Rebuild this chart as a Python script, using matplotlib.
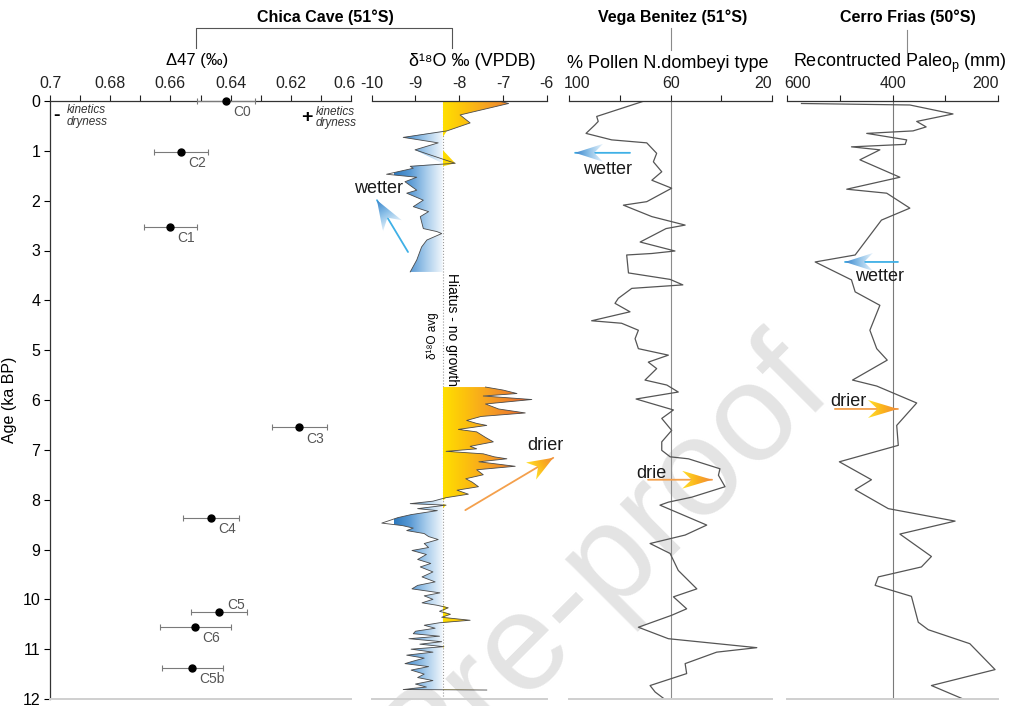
import numpy as np
import matplotlib
matplotlib.use("Agg")
import matplotlib.pyplot as plt
from matplotlib.colors import LinearSegmentedColormap
from matplotlib.patches import Polygon
from matplotlib.lines import Line2D
from matplotlib.transforms import Affine2D, ScaledTranslation

plt.rcParams['axes.unicode_minus'] = False
plt.rcParams['font.family'] = ['Liberation Sans', 'DejaVu Sans']
NARROW = ['Liberation Sans Narrow', 'Liberation Sans', 'DejaVu Sans']

# clumped isotopes, Chica Cave
d47_labels = ['C0', 'C2', 'C1', 'C3', 'C4', 'C5', 'C6', 'C5b']
d47_age = [0.0, 1.02, 2.52, 6.55, 8.36, 10.25, 10.56, 11.38]
d47_val = [0.6415, 0.6565, 0.6601, 0.6172, 0.6464, 0.6438, 0.6518, 0.6527]
d47_err = [0.0095, 0.0091, 0.0088, 0.0091, 0.0093, 0.0093, 0.0118, 0.0101]

# d18O, Chica Cave (two growth phases, hiatus between)
d18o_avg = -8.38
seg1_age = [0.00, 0.05, 0.28, 0.44, 0.60, 0.73, 0.84, 0.98, 1.25, 1.31, 1.35, 1.47,
            1.53, 1.62, 1.79, 1.85, 1.99, 2.12, 2.22, 2.32, 2.56, 2.62, 2.66, 2.79,
            2.93, 3.19, 3.43]
seg1_d18o = [-7.10, -6.87, -7.98, -7.75, -8.28, -9.28, -8.48, -9.01, -8.09, -9.12, -9.05, -9.66,
             -8.97, -9.24, -8.97, -9.20, -8.82, -9.05, -8.70, -8.89, -8.82, -8.51, -8.40, -8.74,
             -8.86, -8.97, -9.12]
seg2_age = [5.74, 5.80, 5.87, 5.92, 5.99, 6.08, 6.18, 6.26, 6.33, 6.41, 6.47, 6.51,
            6.59, 6.64, 6.75, 6.84, 6.93, 6.98, 7.03, 7.08, 7.14, 7.18, 7.24, 7.33,
            7.40, 7.50, 7.58, 7.65, 7.74, 7.81, 7.89, 7.96,
            8.03, 8.08, 8.11, 8.18, 8.22, 8.30, 8.36, 8.42, 8.47, 8.52, 8.57, 8.62,
            8.68, 8.74, 8.80, 8.88, 8.96, 9.02, 9.10, 9.20, 9.28, 9.35, 9.45, 9.55,
            9.65, 9.72, 9.79, 9.87, 9.93, 10.00,
            10.07, 10.12, 10.17, 10.24, 10.30, 10.36, 10.42, 10.47, 10.52, 10.58, 10.64, 10.69,
            10.74, 10.79, 10.85, 10.90, 10.95, 11.00, 11.06, 11.12, 11.18, 11.24, 11.29, 11.35,
            11.42, 11.50, 11.57, 11.63, 11.70, 11.76, 11.81, 11.82]
seg2_d18o = [-7.40, -7.00, -6.68, -7.45, -6.34, -7.40, -7.10, -6.49, -7.50, -7.83, -7.60, -7.37,
             -8.02, -7.60, -7.40, -7.22, -7.75, -7.60, -8.30, -7.45, -7.20, -6.91, -7.55, -6.72,
             -7.60, -7.45, -7.85, -7.70, -7.56, -8.05, -7.79, -8.30,
             -8.60, -9.12, -8.30, -8.95, -8.50, -9.10, -9.40, -9.60, -9.77, -9.30, -9.05, -9.20,
             -8.80, -8.70, -8.48, -8.80, -8.70, -9.08, -8.75, -8.95, -8.65, -8.89, -8.60, -8.85,
             -8.55, -8.95, -9.08, -8.44, -8.80, -8.60,
             -8.85, -8.50, -8.25, -8.45, -8.20, -8.40, -7.75, -8.45, -8.80, -8.55, -9.00, -9.05,
             -8.45, -9.15, -8.40, -8.90, -8.35, -9.10, -8.60, -9.20, -8.80, -9.05, -9.24, -8.70,
             -9.10, -8.80, -8.95, -8.60, -9.00, -8.75, -9.28, -7.37]

# Vega Benitez pollen
pollen_age = [0.00, 0.31, 0.41, 0.48, 0.65, 0.78, 0.84, 1.05, 1.22, 1.42, 1.59, 1.75,
              2.02, 2.09, 2.32, 2.49, 2.56, 2.83, 3.01, 3.06, 3.09, 3.45, 3.58, 3.69,
              3.76, 3.96, 4.06, 4.23, 4.41, 4.46, 4.60, 4.77, 4.97, 5.10, 5.24, 5.37,
              5.60, 5.70, 5.84, 5.98, 6.20, 6.37, 6.61, 6.84, 7.01, 7.14, 7.18, 7.38,
              7.51, 7.74, 7.95, 8.05, 8.11, 8.51, 8.71, 8.88, 9.08, 9.42, 9.79, 9.95,
              10.19, 10.32, 10.56, 10.79, 10.97, 11.06, 11.29, 11.49, 11.73, 11.86, 12.06]
pollen_pct = [70.4, 89.1, 88.5, 89.8, 93.3, 83.2, 69.4, 65.5, 66.8, 63.5, 67.4, 59.6,
              69.4, 78.6, 67.4, 54.3, 61.8, 72.0, 58.3, 67.4, 77.3, 76.6, 60.2, 55.2,
              75.3, 80.6, 81.9, 76.0, 91.1, 79.3, 72.7, 74.0, 72.7, 60.9, 68.8, 65.5,
              70.1, 61.5, 57.0, 73.6, 58.9, 63.5, 59.6, 63.5, 63.5, 60.2, 53.0, 40.6,
              41.2, 38.6, 51.7, 60.9, 64.2, 45.8, 54.3, 68.1, 60.2, 57.0, 49.7, 58.9,
              53.7, 59.6, 72.7, 60.9, 26.1, 41.9, 54.3, 53.7, 68.1, 66.1, 60.9]

# Cerro Frias reconstructed precipitation
paleo_age = [0.05, 0.08, 0.26, 0.41, 0.52, 0.60, 0.65, 0.78, 0.87, 0.92, 0.98, 1.18,
             1.53, 1.77, 1.85, 2.15, 2.39, 3.09, 3.23, 3.59, 3.83, 4.10, 4.60, 4.97,
             5.20, 5.60, 5.72, 6.06, 6.51, 6.91, 7.24, 7.60, 7.80, 8.18, 8.43, 8.69,
             9.14, 9.35, 9.55, 9.72, 9.94, 10.46, 10.61, 10.89, 11.41, 11.73, 12.03]
paleo_mm = [573, 367, 285, 354, 336, 361, 449, 373, 376, 478, 424, 462,
            386, 487, 411, 367, 421, 471, 547, 478, 471, 424, 443, 430,
            410, 476, 430, 354, 392, 389, 501, 440, 471, 408, 281, 386,
            326, 345, 427, 433, 364, 351, 332, 253, 205, 326, 259]

W, H = 1012, 706
fig = plt.figure(figsize=(W / 100, H / 100), dpi=100)

# watermark behind everything
fig.text(0.595, 0.200, 'Pre-proof', rotation=45, rotation_mode='anchor',
         ha='center', va='center', fontsize=100, color='#e4e4e4', zorder=-10)


def box(x0, x1, y0=101, y1=699):
    return [x0 / W, 1 - y1 / H, (x1 - x0) / W, (y1 - y0) / H]


def shift_label(lab, dx_px):
    lab.set_transform(lab.get_transform() + ScaledTranslation(dx_px / 100, 0, fig.dpi_scale_trans))


ax1 = fig.add_axes(box(50, 351))
ax2 = fig.add_axes(box(371.7, 546.7))
ax3 = fig.add_axes(box(569, 772.3))
ax4 = fig.add_axes(box(787.3, 997.7))

for ax in (ax1, ax2, ax3, ax4):
    ax.set_ylim(12, 0)
    ax.patch.set_visible(False)
    ax.xaxis.tick_top()
    ax.tick_params(axis='x', which='both', top=True, bottom=False, labeltop=True,
                   labelbottom=False, direction='out', width=0.8, length=4, pad=3,
                   colors='#222222', labelsize=11.5)
    ax.spines['top'].set_linewidth(0.9)
    ax.spines['top'].set_color('#333333')
    ax.spines['right'].set_visible(False)
    ax.spines['bottom'].set_color('#cfcfcf')
    ax.spines['bottom'].set_linewidth(1.4)
    if ax is not ax1:
        ax.spines['left'].set_visible(False)
        ax.set_yticks([])

# --- Delta47 panel ---
ax1.set_xlim(0.7, 0.6)
ax1.set_xticks([0.70, 0.68, 0.66, 0.64, 0.62, 0.60])
ax1.set_xticklabels(['0.7', '0.68', '0.66', '0.64', '0.62', '0.6'])
ax1.set_xticks([0.69, 0.67, 0.65, 0.63, 0.61], minor=True)
for lab in ax1.get_xticklabels():
    lab.set_family(NARROW)
    lab.set_fontsize(11.5)
shift_label(ax1.get_xticklabels()[-1], -6)
ax1.set_yticks(range(13))
ax1.tick_params(axis='y', direction='out', length=4, width=0.8, pad=3, labelsize=11.5)
for lab in ax1.get_yticklabels():
    lab.set_family(NARROW)
ax1.spines['left'].set_linewidth(0.9)
ax1.spines['left'].set_color('#333333')
ax1.set_ylabel('Age (ka BP)', fontsize=11.5)
ax1.yaxis.set_label_coords(-33 / 301, 0.5)

ax1.errorbar(d47_val, d47_age, xerr=d47_err, fmt='o', color='black', ms=5,
             ecolor='#7a7a7a', elinewidth=0.8, capsize=2.5, capthick=0.8,
             clip_on=False, zorder=4)
for lab, v, a in zip(d47_labels, d47_val, d47_age):
    if lab == 'C5':
        ax1.annotate(lab, (v, a), xytext=(6, 0), textcoords='offset points',
                     ha='left', va='bottom', fontsize=10, color='#555555', family=NARROW)
    else:
        ax1.annotate(lab, (v, a), xytext=(5, -3), textcoords='offset points',
                     ha='left', va='top', fontsize=10, color='#555555', family=NARROW)

ax1.text(0.6977, 0.30, '-', fontsize=14, fontweight='bold', ha='center', va='center')
ax1.text(0.6945, 0.30, 'kinetics\ndryness', fontsize=8.5, style='italic', ha='left',
         va='center', linespacing=0.9, color='#333333')
ax1.text(0.6146, 0.34, '+', fontsize=14, fontweight='bold', ha='center', va='center')
ax1.text(0.6118, 0.34, 'kinetics\ndryness', fontsize=8.5, style='italic', ha='left',
         va='center', linespacing=0.9, color='#333333', clip_on=False)

# --- d18O panel ---
ax2.set_xlim(-10, -6)
ax2.set_xticks([-10, -9, -8, -7, -6])

dry_cmap = LinearSegmentedColormap.from_list('dry', ['#ffdf00', '#fcc00e', '#f6a024', '#ee7f2c', '#e4542a'])
wet_cmap = LinearSegmentedColormap.from_list('wet', ['#f2f7fc', '#a9cdec', '#5b9bd5', '#2c78bd'])


def gradient_fill(ax, age, vals, base, limit, cmap):
    age = np.asarray(age)
    vals = np.asarray(vals)
    edge = np.maximum(vals, base) if limit > base else np.minimum(vals, base)
    verts = np.column_stack([np.r_[base, edge, base], np.r_[age[0], age, age[-1]]])
    poly = Polygon(verts, closed=True, facecolor='none', edgecolor='none')
    ax.add_patch(poly)
    im = ax.imshow(np.linspace(0, 1, 256)[None, :], cmap=cmap, aspect='auto',
                   extent=(base, limit, age[-1], age[0]), interpolation='bilinear', zorder=1)
    im.set_clip_path(poly)


for age, vals in ((seg1_age, seg1_d18o), (seg2_age, seg2_d18o)):
    gradient_fill(ax2, age, vals, d18o_avg, -6.3, dry_cmap)
    gradient_fill(ax2, age, vals, d18o_avg, -9.5, wet_cmap)
    ax2.plot(vals, age, color='#4a4a4a', lw=0.6, zorder=2)

ax2.axvline(d18o_avg, color='#9a9a9a', lw=0.8, ls=':', zorder=0.5)
ax2.set_xlim(-10, -6)
ax2.set_ylim(12, 0)
ax2.text(-8.60, 4.71, 'δ¹⁸O avg', rotation=90, fontsize=8.5, ha='center', va='center')
ax2.text(-8.16, 4.58, 'Hiatus - no growth', rotation=270, fontsize=10, ha='center', va='center')

# --- pollen panel ---
ax3.set_xlim(100, 20)
ax3.set_xticks([100, 60, 20])
ax3.set_xticks([80, 40], minor=True)
shift_label(ax3.get_xticklabels()[0], 8)
shift_label(ax3.get_xticklabels()[-1], -9)
ax3.axvline(60, color='#8c8c8c', lw=0.8, zorder=0.5)
ax3.plot(pollen_pct, pollen_age, color='#555555', lw=0.9)

# --- Cerro Frias panel ---
ax4.set_xlim(600, 200)
ax4.set_xticks([600, 400, 200])
ax4.set_xticks([500, 300], minor=True)
shift_label(ax4.get_xticklabels()[0], 10)
shift_label(ax4.get_xticklabels()[-1], -12)
ax4.axvline(400, color='#7a7a7a', lw=0.8, zorder=0.5)
ax4.plot(paleo_mm, paleo_age, color='#555555', lw=0.9)


def gradient_arrow(ax, tail, tip, colors, line_color, head_len=24, head_w=20, lw=1.3):
    ax.annotate('', xy=tip, xytext=tail, annotation_clip=False,
                arrowprops=dict(arrowstyle='-', color=line_color, lw=lw,
                                shrinkA=0, shrinkB=0))
    p0 = ax.transData.transform(tail)
    p1 = ax.transData.transform(tip)
    ang = np.arctan2(p1[1] - p0[1], p1[0] - p0[0])
    trans = Affine2D().rotate(ang).translate(*p1)
    head = Polygon([(0, 0), (-head_len, head_w / 2), (-0.68 * head_len, 0),
                    (-head_len, -head_w / 2)], closed=True, transform=trans)
    cmap = LinearSegmentedColormap.from_list('head', colors)
    im = ax.imshow(np.linspace(0, 1, 64)[None, :], cmap=cmap, aspect='auto',
                   extent=(-head_len, 0, -head_w / 2, head_w / 2), transform=trans,
                   interpolation='bilinear', zorder=5)
    im.set_clip_path(head)
    im.set_clip_box(fig.bbox)


wet_head = ['#e6f2fb', '#8cc0e8', '#3a86cc']
dry_head = ['#ffe02a', '#fbb21c', '#f08a3c']
word = dict(fontsize=13, color='#1a1a1a')

gradient_arrow(ax2, (-9.17, 3.03), (-9.88, 1.99), wet_head, '#3fb0e6', head_len=30, head_w=22)
ax2.text(-9.29, 1.75, 'wetter', ha='right', va='center', clip_on=False, **word)
gradient_arrow(ax2, (-7.86, 8.21), (-5.85, 7.16), dry_head, '#f4a04c', head_len=26, head_w=20)
ax2.text(-6.03, 6.92, 'drier', ha='center', va='center', clip_on=False, **word)

gradient_arrow(ax3, (76.0, 1.04), (97.6, 1.04), wet_head, '#3fb0e6', head_len=28, head_w=18)
ax3.text(85.0, 1.38, 'wetter', ha='center', va='center', **word)
gradient_arrow(ax3, (68.9, 7.60), (43.7, 7.60), dry_head, '#f4a04c', head_len=30, head_w=18)
ax3.text(67.7, 7.48, 'drie', ha='center', va='center', **word)

gradient_arrow(ax4, (389.6, 3.23), (490.3, 3.23), wet_head, '#3fb0e6', head_len=28, head_w=18)
ax4.text(424, 3.53, 'wetter', ha='center', va='center', **word)
gradient_arrow(ax4, (509.5, 6.18), (389.6, 6.18), dry_head, '#f4a04c', head_len=30, head_w=18)
ax4.text(483, 6.04, 'drier', ha='center', va='center', **word)


# --- headers ---
def fx(px):
    return px / W


def fy(py):
    return 1 - py / H


fig.text(fx(197), fy(60), 'Δ47 (‰)', ha='center', va='center', fontsize=12, family=NARROW)
fig.text(fx(472), fy(62), 'δ¹⁸O ‰ (VPDB)', ha='center', va='center', fontsize=13)
fig.text(fx(668), fy(63), '% Pollen N.dombeyi type', ha='center', va='center', fontsize=13)
fig.text(fx(900), fy(63), r'Recontructed Paleo$_\mathregular{p}$ (mm)', ha='center',
         va='center', fontsize=13)

title = dict(ha='center', va='center', fontsize=11.5, fontweight='bold')
fig.text(fx(325), fy(17), 'Chica Cave (51°S)', **title)
fig.text(fx(673), fy(17), 'Vega Benitez (51°S)', **title)
fig.text(fx(908), fy(17), 'Cerro Frias (50°S)', **title)

fig.add_artist(Line2D([fx(196), fx(196), fx(452), fx(452)], [fy(48), fy(28), fy(28), fy(48)],
                      color='#555555', lw=0.8, transform=fig.transFigure))
fig.add_artist(Line2D([fx(671), fx(671)], [fy(28), fy(50)], color='#8a8a8a', lw=0.8,
                      transform=fig.transFigure))
fig.add_artist(Line2D([fx(907), fx(907)], [fy(30), fy(52)], color='#8a8a8a', lw=0.8,
                      transform=fig.transFigure))

fig.savefig('out.png', dpi=100)
